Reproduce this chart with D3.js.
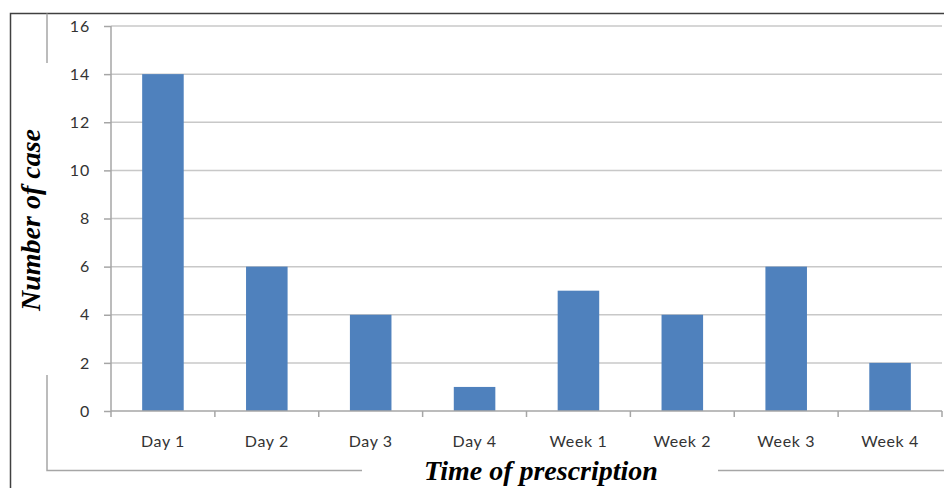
<!DOCTYPE html>
<html><head><meta charset="utf-8">
<script src="https://cdn.jsdelivr.net/npm/d3@7"></script>
<style>body{margin:0;background:#fff}svg{display:block}</style>
</head><body>
<svg id="c" width="944" height="488"></svg>
<script>
const categories = ["Day 1","Day 2","Day 3","Day 4","Week 1","Week 2","Week 3","Week 4"];
const values = [14, 6, 4, 1, 5, 4, 6, 2];
const yTicks = [0, 2, 4, 6, 8, 10, 12, 14, 16];
const xTitle = "Time of prescription";
const yTitle = "Number of case";

const svg = d3.select("#c");
const m = {left:111, right:942, top:26, bottom:411};
const x = d3.scaleBand().domain(categories).range([m.left, m.right]).paddingInner(0.6).paddingOuter(0.3);
const y = d3.scaleLinear().domain([0,16]).range([m.bottom, m.top]);
const labelFont = "Lato, 'Open Sans', sans-serif";

// outer dark frame
svg.append("path").attr("d","M10.5,488 V13.5 H944").attr("fill","none").attr("stroke","#404040").attr("stroke-width",1.5);
// inner grey frame with gaps
const gf = svg.append("g").attr("stroke","#a6a6a6").attr("stroke-width",1.5).attr("fill","none");
gf.append("path").attr("d","M47,13.5 V63");
gf.append("path").attr("d","M47,375 V470.5 H362");
gf.append("path").attr("d","M718,470.5 H944");

// gridlines
svg.append("g").selectAll("line").data(yTicks.filter(d=>d>0)).join("line")
  .attr("x1",m.left).attr("x2",m.right).attr("y1",d=>y(d)).attr("y2",d=>y(d))
  .attr("stroke","#c8c8c8").attr("stroke-width",1.5);

// bars
svg.append("g").selectAll("rect").data(values).join("rect")
  .attr("x",(d,i)=>x(categories[i])).attr("width",x.bandwidth())
  .attr("y",d=>y(d)).attr("height",d=>y(0)-y(d))
  .attr("fill","#4f81bd");

// y axis
const ya = svg.append("g").attr("transform",`translate(${m.left},0)`)
  .call(d3.axisLeft(y).tickValues(yTicks).tickSize(7).tickPadding(14));
ya.select(".domain").attr("stroke","#a6a6a6").attr("stroke-width",1.5).attr("d",`M0,${m.bottom}V${m.top}`);
ya.selectAll(".tick line").attr("stroke","#a6a6a6").attr("stroke-width",1.5);
ya.selectAll("text").attr("font-family",labelFont).attr("font-size",16).attr("letter-spacing",0.8).attr("fill","#333");

// x axis
const xa = svg.append("g").attr("transform",`translate(0,${m.bottom})`)
  .call(d3.axisBottom(x).tickSize(0).tickPadding(0));
xa.select(".domain").attr("stroke","#a6a6a6").attr("stroke-width",1.5).attr("d",`M${m.left},0H${m.right}`);
xa.selectAll("text").attr("dy",null).attr("y",36).attr("font-family",labelFont).attr("font-size",16)
  .attr("letter-spacing",0.6).attr("fill","#333");
xa.append("g").selectAll("line").data(d3.range(categories.length+1)).join("line")
  .attr("x1",i=>m.left+i*(m.right-m.left)/categories.length)
  .attr("x2",i=>m.left+i*(m.right-m.left)/categories.length)
  .attr("y1",0).attr("y2",6).attr("stroke","#a6a6a6").attr("stroke-width",1.5);

// titles
svg.append("text").attr("x",541).attr("y",480).attr("text-anchor","middle")
  .attr("font-family","'Liberation Serif', 'DejaVu Serif', serif").attr("font-weight","bold").attr("font-style","italic")
  .attr("font-size",28).attr("fill","#000").text(xTitle);
svg.append("text").attr("transform","translate(40,220) rotate(-90)").attr("text-anchor","middle")
  .attr("font-family","'Liberation Serif', 'DejaVu Serif', serif").attr("font-weight","bold").attr("font-style","italic")
  .attr("font-size",28).attr("fill","#000").text(yTitle);
</script>
</body></html>
